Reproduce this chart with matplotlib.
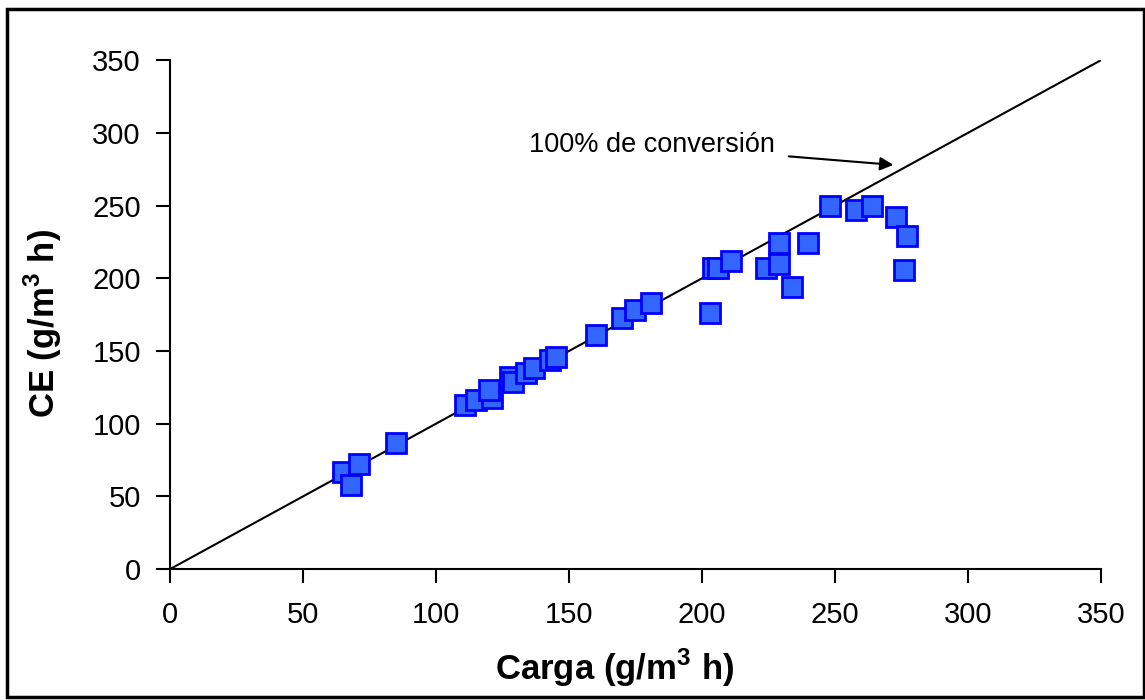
import matplotlib
matplotlib.use("Agg")
from matplotlib import pyplot as plt
from matplotlib.patches import Rectangle

plt.rcParams['font.family'] = ['Liberation Sans', 'DejaVu Sans']
plt.rcParams['mathtext.fontset'] = 'custom'
plt.rcParams['mathtext.rm'] = 'Liberation Sans'
plt.rcParams['mathtext.bf'] = 'Liberation Sans:bold'

# carga vs capacidad de eliminacion (g/m3 h)
carga = [65, 68, 71, 85, 111, 115, 121, 120, 128, 129, 134, 137, 143, 145,
         160, 170, 175, 181, 203, 204, 206, 211, 224, 229, 229, 234, 240,
         248, 258, 264, 273, 277, 276]
ce = [67, 58, 72, 87, 113, 116, 118, 123, 132, 129, 135, 138, 144, 146,
      161, 173, 178, 183, 176, 207, 207, 212, 207, 224, 210, 194, 224,
      250, 247, 250, 242, 229, 206]
linea = [0, 350]
ticks = [0, 50, 100, 150, 200, 250, 300, 350]

fig = plt.figure(figsize=(11.45, 7), dpi=100)
ax = fig.add_axes([0.1485, 0.187, 0.813, 0.727])

ax.plot(linea, linea, color='black', lw=1.5, zorder=2)
ax.plot(carga, ce, 's', ms=15, mfc='#3366FF', mec='#0000FF', mew=2, zorder=3)

ax.annotate('100% de conversión', xy=(272, 278), xytext=(135, 291.5),
            fontsize=19.5, va='center',
            arrowprops=dict(arrowstyle='-|>', color='black', lw=1.5,
                            mutation_scale=20, shrinkA=8, shrinkB=0))

ax.set_xlim(0, 350)
ax.set_ylim(0, 350)
ax.set_xticks(ticks)
ax.set_yticks(ticks)
ax.tick_params(labelsize=21, length=10, width=1.5, direction='out')
ax.tick_params(axis='x', pad=13)
ax.tick_params(axis='y', pad=11)
ax.spines['top'].set_visible(False)
ax.spines['right'].set_visible(False)
ax.spines['left'].set_linewidth(1.5)
ax.spines['bottom'].set_linewidth(1.5)
ax.set_xlabel(r'Carga (g/m$^{\mathbf{3}}$ h)', fontsize=25, fontweight='bold')
ax.set_ylabel(r'CE (g/m$^{\mathbf{3}}$ h)', fontsize=25, fontweight='bold')
ax.xaxis.set_label_coords(0.478, -0.152)
ax.yaxis.set_label_coords(-0.114, 0.482)

fig.patches.append(Rectangle((0.006, 0.004), 0.993, 0.983, transform=fig.transFigure,
                             fill=False, edgecolor='black', lw=2.5))

fig.savefig('out.png', dpi=100)
